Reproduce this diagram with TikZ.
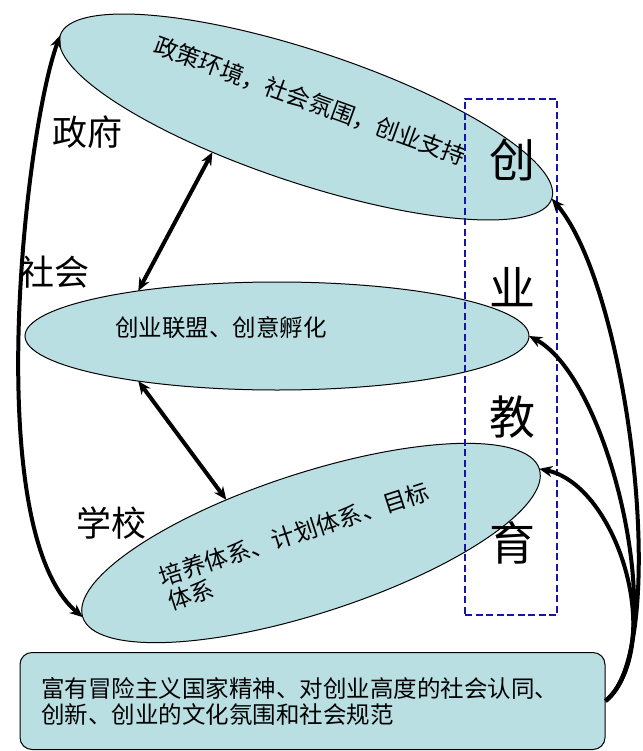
\documentclass[tikz,border=0pt]{standalone}
\usepackage{fontspec}
\setmainfont{Noto Sans CJK SC}
\usetikzlibrary{shapes.geometric,arrows.meta}
\definecolor{fillc}{RGB}{185,223,227}
\definecolor{dashc}{RGB}{20,20,170}
\begin{document}
\begin{tikzpicture}[x=1pt,y=-1pt,
  blob/.style={ellipse,draw=black,line width=1pt,fill=fillc,inner sep=0pt,outer sep=0pt},
  link/.style={line width=4pt,-{Stealth[length=13pt,width=11pt]}},
  both/.style={line width=4pt,{Stealth[length=13pt,width=11pt]}-{Stealth[length=13pt,width=11pt]}},
  small/.style={font=\fontsize{23.5}{26}\selectfont,inner sep=0pt},
  biglabel/.style={font=\fontsize{35}{38}\selectfont,inner sep=0pt},
  hugechar/.style={font=\fontsize{46}{50}\selectfont,inner sep=0pt}
]
\useasboundingbox (0,0) rectangle (642,751);
% ellipses
\node[blob,minimum width=518pt,minimum height=132pt,rotate=-18.4] (gov) at (306,117) {};
\node[blob,minimum width=504pt,minimum height=108pt] (soc) at (277,336) {};
\node[blob,minimum width=480pt,minimum height=140pt,rotate=18] (sch) at (311,543) {};
% bottom box
\node[draw=black,line width=1pt,fill=fillc,rounded corners=12pt,minimum width=585pt,minimum height=97pt,
      text width=543pt,align=left,inner xsep=21pt,font=\fontsize{23.5}{26}\selectfont] (cult) at (312.5,701)
      {富有冒险主义国家精神、对创业高度的社会认同、\\创新、创业的文化氛围和社会规范};
% texts in ellipses
\node[small,rotate=-20] (t1) at (310,101) {政策环境，社会氛围，创业支持};
\node[small] (t2) at (221,328) {创业联盟、创意孵化};
\node[small,rotate=18,anchor=west,align=left] (t3) at (164,590) {培养体系、计划体系、目标\\体系};
% labels
\node[biglabel] (lgov) at (87,132) {政府};
\node[biglabel] (lsoc) at (54,272) {社会};
\node[biglabel] (lsch) at (111,523) {学校};
% dashed frame
\node[draw=dashc,line width=1.8pt,dash pattern=on 7pt off 3.5pt,minimum width=92pt,minimum height=516pt,inner sep=0pt] (frame) at (511,357) {};
\node[hugechar] (c1) at (512,160) {创};
\node[hugechar] (c2) at (512,287) {业};
\node[hugechar] (c3) at (512,417) {教};
\node[hugechar] (c4) at (512,543) {育};
% connectors
\draw[both] (gov.west) .. controls (25,130) and (-20,530) .. (sch.west);
\draw[both] (gov.219) -- (soc.162);
\draw[both] (soc.198) -- (sch.135);
\draw[link] (cult.east) .. controls (672,650) and (630,290) .. (gov.east);
\draw[link] (cult.east) .. controls (672,650) and (612,380) .. (soc.east);
\draw[link] (cult.east) .. controls (667,645) and (617,485) .. (sch.east);
\end{tikzpicture}
\end{document}
